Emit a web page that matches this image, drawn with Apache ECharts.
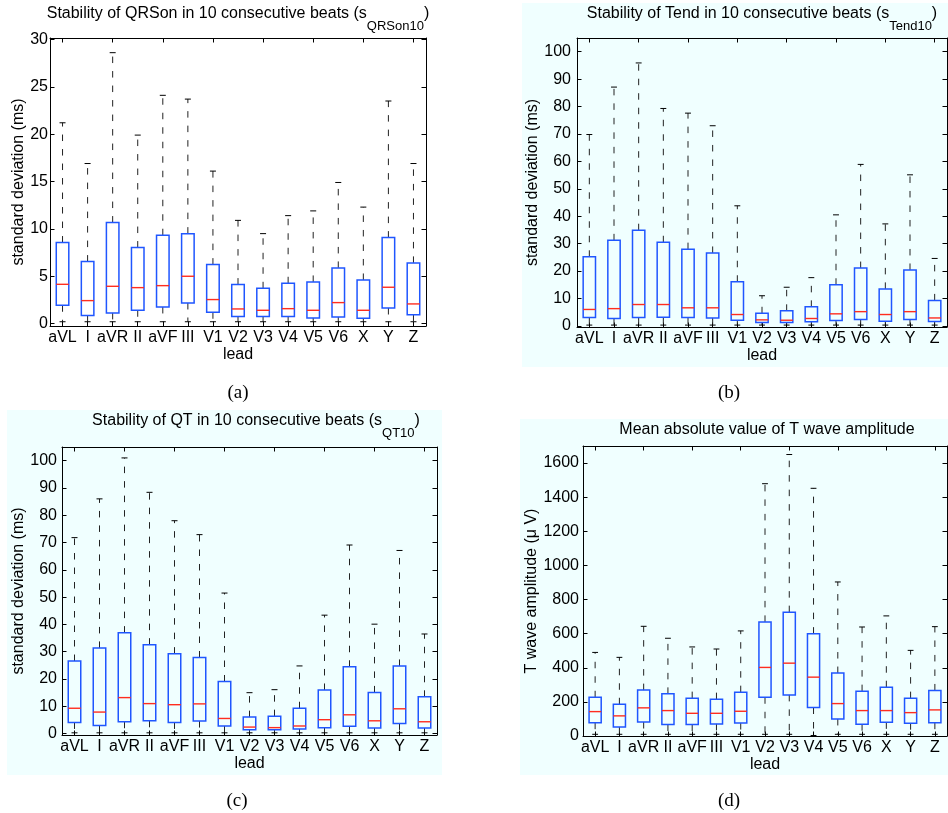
<!DOCTYPE html>
<html>
<head>
<meta charset="utf-8">
<script src="https://cdn.jsdelivr.net/npm/echarts@6/dist/echarts.min.js"></script>
<style>html,body{margin:0;padding:0;background:#fff}#c{width:948px;height:813px}</style>
</head>
<body>
<div id="c"></div>
<script>
// ---------- data ----------
const leads = ['aVL','I','aVR','II','aVF','III','V1','V2','V3','V4','V5','V6','X','Y','Z'];

// (a) Stability of QRSon (ms)
const lowA  = [0.2,0.2,0.2,0.2,0.2,0.2,0.2,0.2,0.2,0.2,0.2,0.2,0.2,0.2,0.2];
const q1A   = [1.94,0.85,1.13,1.41,1.76,2.18,1.2,0.74,0.74,0.74,0.6,0.7,0.56,1.65,0.95];
const medA  = [4.15,2.43,3.94,3.8,4.01,5.0,2.54,1.55,1.41,1.58,1.41,2.22,1.41,3.84,2.08];
const q3A   = [8.56,6.55,10.67,8.03,9.33,9.5,6.23,4.12,3.73,4.26,4.4,5.88,4.61,9.08,6.41];
const highA = [21.2,16.9,28.6,19.9,24.1,23.7,16.1,10.9,9.5,11.4,11.9,14.9,12.3,23.5,16.9];
const ticksA = [0,5,10,15,20,25,30];

// (b) Stability of Tend (ms)
const lowB  = [0.3,0.3,0.3,0.3,0.3,0.3,0.3,0.3,0.3,0.3,0.3,0.3,0.3,0.3,0.3];
const q1B   = [3.05,2.7,3.05,3.2,3.05,2.9,2.07,1.2,1.2,1.5,1.95,2.3,1.7,2.3,1.6];
const medB  = [6.0,6.3,7.8,7.8,6.6,6.6,4.15,2.2,2.07,2.7,4.4,5.2,4.15,5.2,2.9];
const q3B   = [25.2,31.2,34.9,30.5,28.0,26.6,16.1,4.6,5.5,6.95,15.0,21.1,13.5,20.4,9.3];
const highB = [69.8,87.1,95.9,79.3,77.6,73.0,43.8,11.0,14.1,17.6,40.5,58.9,37.2,55.1,24.6];
const ticksB = [0,10,20,30,40,50,60,70,80,90,100];

// (c) Stability of QT (ms)
const lowC  = [0.3,0.3,0.3,0.3,0.3,0.3,0.3,0.3,0.3,0.3,0.3,0.3,0.3,0.3,0.3];
const q1C   = [4.1,3.0,4.35,4.7,4.1,4.6,2.8,1.45,1.45,1.7,2.2,2.66,2.05,3.75,2.05];
const medC  = [9.3,7.9,13.2,11.0,10.6,10.9,5.56,2.4,2.2,2.8,5.1,6.9,4.7,9.1,4.35];
const q3C   = [26.6,31.4,37.0,32.6,29.3,27.9,19.1,6.05,6.4,9.3,16.0,24.5,15.1,24.8,13.5];
const highC = [71.8,86.0,101.0,88.4,78.0,72.9,51.5,15.0,16.1,24.8,43.4,69.1,40.1,67.1,36.5];
const ticksC = [0,10,20,30,40,50,60,70,80,90,100];

// (d) Mean absolute value of T wave amplitude (µV)
const lowD  = [10,10,10,10,10,10,10,10,10,3,10,10,10,10,10];
const q1D   = [78,53,82,67,67,71,76,227,241,167,100,69,80,75,78];
const medD  = [143,118,165,149,133,133,145,402,427,345,190,149,149,137,153];
const q3D   = [227,186,269,247,222,216,257,669,726,600,369,263,286,222,267];
const highD = [490,461,643,573,522,510,616,1479,1650,1452,903,639,704,502,641];
const ticksD = [0,200,400,600,800,1000,1200,1400,1600];

// ---------- styling / layout ----------
const FONT = 'Liberation Sans';
const BLUE = '#1f56ff';
const RED = '#ff2d1f';
const CYAN = '#f0ffff';

const panels = [
  { grid:{left:50,top:38,width:376,height:288}, min:-0.25, max:30.15, ticks:ticksA,
    low:lowA,q1:q1A,med:medA,q3:q3A,high:highA, yName:'standard deviation (ms)', nameGap:22, lm:2 },
  { grid:{left:577,top:38,width:370,height:289}, min:-0.4, max:105, ticks:ticksB,
    low:lowB,q1:q1B,med:medB,q3:q3B,high:highB, yName:'standard deviation (ms)', nameGap:30, lm:6 },
  { grid:{left:62,top:447,width:375,height:288}, min:-0.5, max:105, ticks:ticksC,
    low:lowC,q1:q1C,med:medC,q3:q3C,high:highC, yName:'standard deviation (ms)', nameGap:29, lm:5 },
  { grid:{left:583,top:446,width:364,height:290}, min:0, max:1700, ticks:ticksD,
    low:lowD,q1:q1D,med:medD,q3:q3D,high:highD, yName:'T wave amplitude (\u03bc V)', nameGap:42, lm:4 }
];

function renderBox(params, api) {
  const x = api.value(0);
  const pLow = api.coord([x, api.value(1)]);
  const pQ1 = api.coord([x, api.value(2)]);
  const pMed = api.coord([x, api.value(3)]);
  const pQ3 = api.coord([x, api.value(4)]);
  const pHigh = api.coord([x, api.value(5)]);
  const band = api.size([1, 0])[0];
  const bw = band * 0.5, cw = band * 0.24;
  const cx = pQ1[0];
  const dash = { stroke: '#222', lineWidth: 1, lineDash: [6.5, 8] };
  const solid = { stroke: '#000', lineWidth: 1 };
  return {
    type: 'group',
    children: [
      { type: 'line', shape: { x1: cx, y1: pQ3[1], x2: cx, y2: pHigh[1] }, style: dash },
      { type: 'line', shape: { x1: cx, y1: pQ1[1], x2: cx, y2: pLow[1] }, style: dash },
      { type: 'line', shape: { x1: cx - cw/2, y1: pHigh[1], x2: cx + cw/2, y2: pHigh[1] }, style: solid },
      { type: 'line', shape: { x1: cx - cw/2, y1: pLow[1], x2: cx + cw/2, y2: pLow[1] }, style: solid },
      { type: 'rect', shape: { x: cx - bw/2, y: pQ3[1], width: bw, height: pQ1[1] - pQ3[1] },
        style: { fill: 'none', stroke: BLUE, lineWidth: 1.5 } },
      { type: 'line', shape: { x1: cx - bw/2, y1: pMed[1], x2: cx + bw/2, y2: pMed[1] },
        style: { stroke: RED, lineWidth: 1.4 } }
    ]
  };
}

const grid = [], xAxis = [], yAxis = [], series = [];
panels.forEach((p, i) => {
  grid.push(Object.assign({ containLabel: false }, p.grid));
  const line = { show: true, onZero: false, lineStyle: { color: '#000', width: 1 } };
  const tick = { show: true, inside: true, length: 4.5, alignWithLabel: true, lineStyle: { color: '#000' } };
  xAxis.push({
    type: 'category', gridIndex: i, data: leads, position: 'bottom',
    axisLine: line, axisTick: tick,
    axisLabel: { interval: 0, color: '#000', fontFamily: FONT, fontSize: 16, margin: 4 },
    name: 'lead', nameLocation: 'middle', nameGap: 21,
    nameTextStyle: { color: '#000', fontFamily: FONT, fontSize: 16 },
    splitLine: { show: false }
  });
  xAxis.push({
    type: 'category', gridIndex: i, data: leads, position: 'top',
    axisLine: line, axisTick: tick, axisLabel: { show: false }, splitLine: { show: false }
  });
  const ytick = { show: true, inside: true, length: 4.5, customValues: p.ticks, lineStyle: { color: '#000' } };
  yAxis.push({
    type: 'value', gridIndex: i, min: p.min, max: p.max, position: 'left',
    axisLine: line, axisTick: ytick,
    axisLabel: { customValues: p.ticks, formatter: v => String(v), color: '#000', fontFamily: FONT, fontSize: 16, margin: p.lm },
    splitLine: { show: false },
    name: p.yName, nameLocation: 'middle', nameGap: p.nameGap, nameRotate: 90,
    nameTextStyle: { color: '#000', fontFamily: FONT, fontSize: 16 }
  });
  yAxis.push({
    type: 'value', gridIndex: i, min: p.min, max: p.max, position: 'right',
    axisLine: line, axisTick: ytick, axisLabel: { show: false }, splitLine: { show: false }
  });
  series.push({
    type: 'custom', xAxisIndex: 2*i, yAxisIndex: 2*i, renderItem: renderBox, clip: false,
    encode: { x: 0, y: [1,2,3,4,5] },
    data: leads.map((_, k) => [k, p.low[k], p.q1[k], p.med[k], p.q3[k], p.high[k]])
  });
});

// titles with subscripts (rich text: main tokens top-aligned, subscript bottom-aligned)
const richT = {
  n: { fontFamily: FONT, fontSize: 16, height: 16, lineHeight: 16, verticalAlign: 'top', color: '#000' },
  s: { fontFamily: FONT, fontSize: 13, height: 14, lineHeight: 27, verticalAlign: 'bottom', color: '#000' }
};
function titleText(cx, cy, text) {
  return { type: 'text', x: cx, y: cy - 8, z: 10,
    style: { text: text, rich: richT, align: 'center', verticalAlign: 'top', fill: '#000' } };
}
function caption(x, y, text) {
  return { type: 'text', x: x, y: y, z: 10,
    style: { text: text, font: '19px "Liberation Serif"', align: 'center', verticalAlign: 'middle', fill: '#000' } };
}

const graphic = [
  { type: 'rect', z: -10, shape: { x: 522, y: 3, width: 426, height: 364 }, style: { fill: CYAN } },
  { type: 'rect', z: -10, shape: { x: 7, y: 410, width: 435, height: 365 }, style: { fill: CYAN } },
  { type: 'rect', z: -10, shape: { x: 520, y: 419, width: 428, height: 356 }, style: { fill: CYAN } },
  titleText(238, 14, '{n|Stability of QRSon in 10 consecutive beats (s}{s|QRSon10}{n|)}'),
  titleText(762, 14, '{n|Stability of Tend in 10 consecutive beats (s}{s|Tend10}{n|)}'),
  titleText(256, 421, '{n|Stability of QT in 10 consecutive beats (s}{s|QT10}{n|)}'),
  titleText(767, 430, '{n|Mean absolute value of T wave amplitude}'),
  caption(238, 393, '(a)'),
  caption(729, 393, '(b)'),
  caption(237, 801, '(c)'),
  caption(729, 801, '(d)')
];

const chart = echarts.init(document.getElementById('c'), null, { renderer: 'canvas' });
chart.setOption({
  animation: false,
  backgroundColor: '#fff',
  grid, xAxis, yAxis, series, graphic
});
</script>
</body>
</html>
